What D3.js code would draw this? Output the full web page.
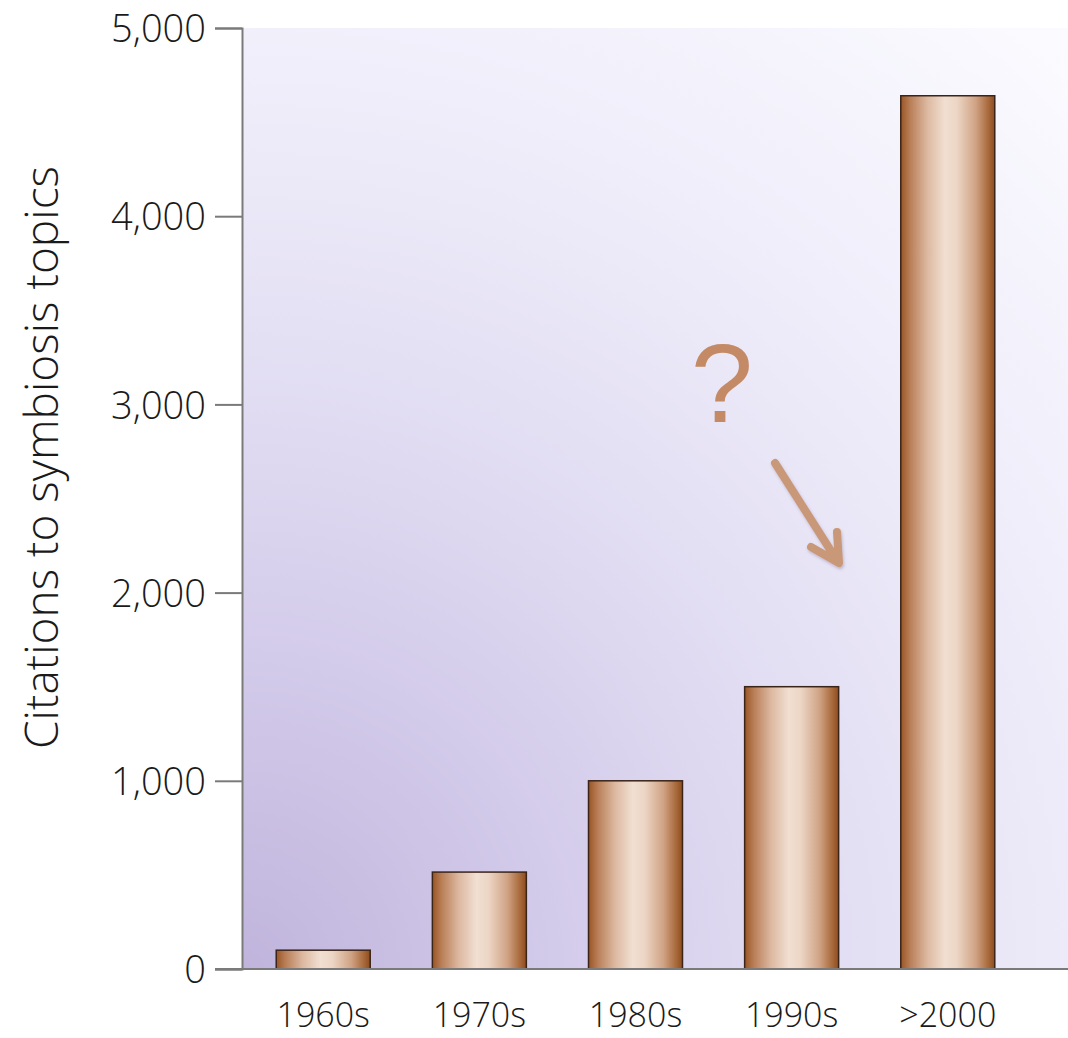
<!DOCTYPE html>
<html>
<head>
<meta charset="utf-8">
<script src="https://cdn.jsdelivr.net/npm/d3@7"></script>
<style>
  html, body { margin: 0; padding: 0; background: #ffffff; }
  svg { display: block; }
</style>
</head>
<body>
<div id="chart"></div>
<script>
// Citations to symbiosis topics by decade
const categories = ["1960s", "1970s", "1980s", "1990s", ">2000"];
const citations = [100, 515, 1000, 1500, 4640];
const yTicks = [0, 1000, 2000, 3000, 4000, 5000];
const yLabel = "Citations to symbiosis topics";

const W = 1068, H = 1038;
const plot = { left: 243, right: 1068, top: 28, bottom: 969 };
const fontFamily = "'Open Sans', 'Noto Sans', sans-serif";

const svg = d3.select("#chart").append("svg")
  .attr("width", W).attr("height", H);

const defs = svg.append("defs");

// Lavender wash radiating from the origin corner
const bg = defs.append("radialGradient")
  .attr("id", "bgGrad")
  .attr("gradientUnits", "userSpaceOnUse")
  .attr("cx", plot.left).attr("cy", plot.bottom)
  .attr("r", 1250);
[[0, "#c0b4dc"], [0.25, "#d3cbea"], [0.5, "#e4e0f4"], [0.7, "#efedfa"], [1, "#fbfbff"]]
  .forEach(([o, c]) => bg.append("stop").attr("offset", o).attr("stop-color", c));

// Copper cylinder shading for bars
const barGrad = defs.append("linearGradient")
  .attr("id", "barGrad").attr("x1", "0").attr("x2", "1").attr("y1", "0").attr("y2", "0");
[[0, "#9a5525"], [0.1, "#b97f58"], [0.28, "#dcb8a0"], [0.47, "#f1dfd2"], [0.6, "#ecd5c4"],
 [0.8, "#cfa283"], [0.93, "#a96a3c"], [1, "#8d4c1f"]]
  .forEach(([o, c]) => barGrad.append("stop").attr("offset", o).attr("stop-color", c));

// Soft shadow under the annotation arrow
const shadow = defs.append("filter").attr("id", "arrowShadow")
  .attr("x", "-20%").attr("y", "-20%").attr("width", "140%").attr("height", "140%");
shadow.append("feDropShadow")
  .attr("dx", 1).attr("dy", 2).attr("stdDeviation", 1.5)
  .attr("flood-color", "#5a4a6a").attr("flood-opacity", 0.3);

const x = d3.scaleBand()
  .domain(categories)
  .range([245, 1026])
  .paddingInner(0.398)
  .paddingOuter(0.2);

const y = d3.scaleLinear()
  .domain([0, 5000])
  .range([plot.bottom, plot.top]);

// Plot background
svg.append("rect")
  .attr("x", plot.left).attr("y", plot.top)
  .attr("width", plot.right - plot.left).attr("height", plot.bottom - plot.top)
  .attr("fill", "url(#bgGrad)");

// Bars
svg.append("g").selectAll("rect")
  .data(categories.map((c, i) => ({ c, v: citations[i] })))
  .join("rect")
  .attr("x", d => x(d.c))
  .attr("y", d => y(d.v))
  .attr("width", x.bandwidth())
  .attr("height", d => y(0) - y(d.v))
  .attr("fill", "url(#barGrad)")
  .attr("stroke", "#3a2418")
  .attr("stroke-width", 1.5);

// Y axis
const yAxis = svg.append("g")
  .attr("transform", `translate(${plot.left - 1},0)`)
  .call(d3.axisLeft(y).tickValues(yTicks).tickFormat(d3.format(",")).tickSize(27).tickPadding(9));
yAxis.select(".domain").attr("stroke", "#7a7a7a").attr("stroke-width", 2);
yAxis.selectAll(".tick line").attr("stroke", "#7a7a7a").attr("stroke-width", 2);
yAxis.selectAll(".tick text")
  .attr("font-family", fontFamily).attr("font-size", 38).attr("font-weight", 300)
  .attr("fill", "#1a1a1a").attr("dy", "0.36em");

// X axis baseline and category labels
const xAxis = svg.append("g")
  .attr("transform", `translate(0,${plot.bottom})`)
  .call(d3.axisBottom(x).tickSize(0).tickPadding(34));
xAxis.select(".domain").remove();
xAxis.append("line")
  .attr("x1", plot.left - 28).attr("x2", W)
  .attr("stroke", "#7a7a7a").attr("stroke-width", 2);
xAxis.selectAll(".tick text")
  .attr("font-family", fontFamily).attr("font-size", 34).attr("font-weight", 300)
  .attr("fill", "#1a1a1a");

// Y axis title
svg.append("text")
  .attr("transform", `translate(58,${(plot.top + plot.bottom) / 2 - 41}) rotate(-90)`)
  .attr("text-anchor", "middle")
  .attr("font-family", fontFamily).attr("font-size", 46).attr("font-weight", 300)
  .attr("fill", "#1a1a1a")
  .text(yLabel);

// Annotation: question mark with arrow toward the 2000s bar
svg.append("text")
  .attr("x", 722).attr("y", 422)
  .attr("text-anchor", "middle")
  .attr("font-family", "'Liberation Sans', Arial, sans-serif")
  .attr("font-size", 112).attr("fill", "#c48a66")
  .text("?");

const arrow = svg.append("g")
  .attr("stroke", "#c99879").attr("stroke-width", 8)
  .attr("stroke-linecap", "round").attr("stroke-linejoin", "round").attr("fill", "none")
  .attr("filter", "url(#arrowShadow)");
arrow.append("path")
  .attr("d", "M775,463 L838,562 M811,547 L839,563 L837,532");
</script>
</body>
</html>
